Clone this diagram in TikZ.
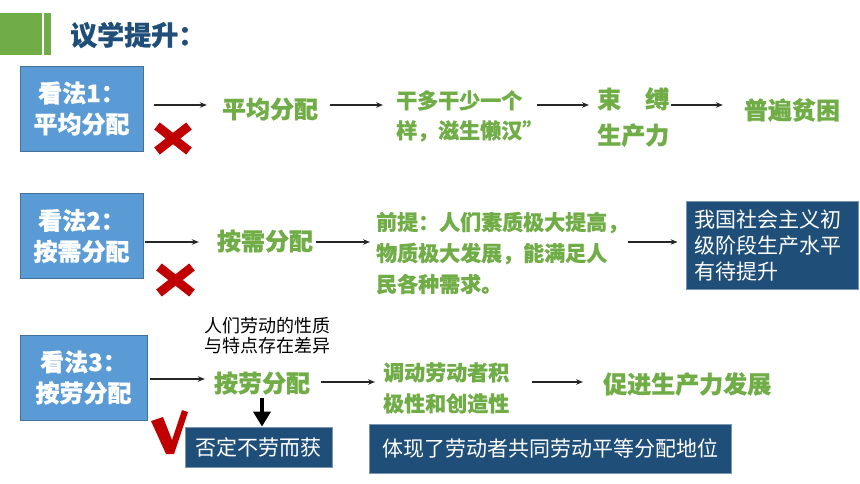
\documentclass[tikz,border=0pt]{standalone}
\usepackage{fontspec}
\setmainfont{Noto Sans CJK SC}[BoldFeatures={FakeBold=0.6}]
\usetikzlibrary{arrows.meta}
\definecolor{gr}{HTML}{70AD47}
\definecolor{db}{HTML}{1F4E79}
\definecolor{lb}{HTML}{5B9BD5}
\definecolor{lbb}{HTML}{41719C}
\definecolor{rd}{HTML}{C00000}
\begin{document}
\begin{tikzpicture}[x=1pt,y=-1pt,
 lbox/.style={draw=lbb,line width=0.8pt,fill=lb,text=white,font=\fontsize{24}{31}\selectfont\bfseries,align=center,minimum width=123pt,minimum height=85pt,inner sep=0},
 gtxt/.style={text=gr,font=\fontsize{24}{30}\selectfont\bfseries,inner sep=0},
 gsm/.style={text=gr,font=\fontsize{21}{31}\selectfont\bfseries,inner sep=0,align=left},
 dbox/.style={fill=db,draw=db!60!white,line width=0.8pt,text=white,font=\fontsize{21}{26}\selectfont,inner ysep=0},
 arr/.style={draw=black!85,line width=1.1pt,-{Stealth[length=7pt,width=5.5pt]}},
 xmark/.style={draw=rd,line width=9pt},
 bigarr/.style={draw=black,line width=4pt,-{Triangle[length=15pt,width=17pt]}},
]
\useasboundingbox (0,0) rectangle (860,484);
% header
\fill[gr] (0,13) rectangle (42,55);
\fill[gr] (44,13) rectangle (51,55);
\node[anchor=west,inner sep=0,text=db,font=\fontsize{27}{30}\selectfont\bfseries] (title) at (70,35) {议学提升：};

% row coordinates
\coordinate (r1) at (0,105);
\coordinate (r2) at (0,242);
\coordinate (r3a) at (0,379);
\coordinate (r3) at (0,382);

% row 1
\node[lbox] (v1) at (81.5,108.5) {看法1：\\平均分配};
\node[gtxt] (m1) at (270,109) {平均分配};
\node[gsm,text width=131pt,anchor=west,font=\fontsize{21}{30}\selectfont\bfseries] (a1) at (396,116) {干多干少一个\\样，滋生懒汉”};
\node[gtxt,align=left,text width=72pt,anchor=west,font=\fontsize{24}{36}\selectfont\bfseries] (b1) at (597,117) {束\hspace{1em}缚\\生产力};
\node[gtxt] (c1) at (792,110) {普遍贫困};
\draw[arr] ([xshift=11pt]v1.east |- r1) -- ([xshift=-15pt]m1.west |- r1);
\draw[arr] ([xshift=12pt]m1.east |- r1) -- ([xshift=-13pt]a1.west |- r1);
\draw[arr] ([xshift=10pt]a1.east |- r1) -- ([xshift=-8pt]b1.west |- r1);
\draw[arr] ([xshift=2pt]b1.east |- r1) -- ([xshift=-21pt]c1.west |- r1);
\draw[xmark] (157,126) -- (189,151) (189,126) -- (157,151);

% row 2
\node[lbox] (v2) at (81.5,236) {看法2：\\按需分配};
\node[gtxt] (m2) at (265,241) {按需分配};
\node[gsm,text width=244pt,anchor=west] (a2) at (376,253) {前提：人们素质极大提高，\\物质极大发展，能满足人\\民各种需求。};
\node[dbox,text width=156pt,inner xsep=8pt,minimum height=88pt,align=left] (d2) at (772,245) {我国社会主义初\\级阶段生产水平\\有待提升};
\draw[arr] ([xshift=2pt]v2.east |- r2) -- ([xshift=-18pt]m2.west |- r2);
\draw[arr] ([xshift=3pt]m2.east |- r2) -- ([xshift=-6pt]a2.west |- r2);
\draw[arr] ([xshift=8pt]a2.east |- r2) -- ([xshift=-8pt]d2.west |- r2);
\draw[xmark] (159,267) -- (192,293) (192,267) -- (159,293);

% row 3
\node[lbox,minimum width=127pt] (v3) at (83.5,377.5) {看法3：\\按劳分配};
\node[inner sep=0,align=left,text width=126pt,font=\fontsize{18}{20}\selectfont] (n3) at (267,335.5) {人们劳动的性质\\与特点存在差异};
\node[gtxt] (m3) at (262,383) {按劳分配};
\node[gsm,text width=130pt,anchor=west] (a3) at (383,388) {调动劳动者积\\极性和创造性};
\node[gtxt,anchor=west] (g3) at (603,384) {促进生产力发展};
\node[dbox,minimum width=147pt,minimum height=40pt] (e3) at (258.5,447) {否定不劳而获};
\node[dbox,minimum width=362pt,minimum height=49pt] (f3) at (550,448.5) {体现了劳动者共同劳动平等分配地位};
\draw[arr] ([xshift=3pt]v3.east |- r3a) -- ([xshift=-9pt]m3.west |- r3a);
\draw[arr] ([xshift=11pt]m3.east |- r3) -- ([xshift=-8pt]a3.west |- r3);
\draw[arr] ([xshift=19pt]a3.east |- r3) -- ([xshift=-20pt]g3.west |- r3);
\draw[bigarr] ([yshift=-3pt]m3.south) -- (m3.south |- e3.north);
\fill[rd] (151,421) -- (163,417) -- (172,440) -- (182,410) -- (188,412) -- (174,454) -- (166,454) -- cycle;
\end{tikzpicture}
\end{document}
